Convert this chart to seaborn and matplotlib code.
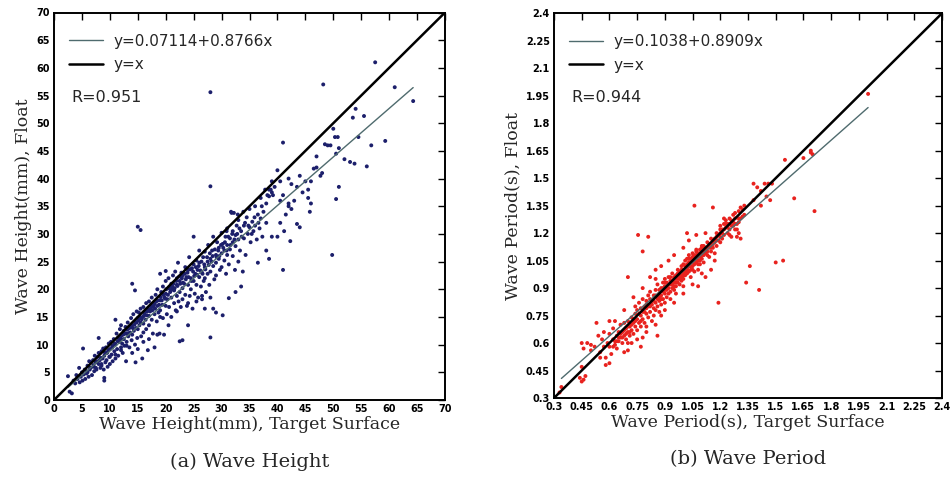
import numpy as np
import pandas as pd
import matplotlib
matplotlib.use("Agg")
import matplotlib.pyplot as plt
import seaborn as sns

sns.set_style("white")
plt.rcParams['font.family'] = ['DejaVu Sans']

# ---------------- data: wave height (mm) ----------------
height_target = [
    2.5, 2.8, 3.2, 3.5, 3.8, 4, 4.2, 4.5, 4.6, 4.8, 5, 5.1, 5.2, 5.3, 5.5, 5.6, 5.8, 6, 6, 6.2,
    6.3, 6.5, 6.6, 6.8, 7, 7, 7.2, 7.3, 7.5, 7.6, 7.8, 8, 8, 8, 8.2, 8.3, 8.5, 8.5, 8.7, 8.8,
    8.9, 9, 9, 9, 9.2, 9.3, 9.4, 9.5, 9.6, 9.8, 9.9, 10, 10, 10.2, 10.3, 10.5, 10.5, 10.7, 10.8, 11,
    11, 11, 11.2, 11.3, 11.5, 11.5, 11.7, 11.8, 12, 12, 12, 12.2, 12.3, 12.5, 12.5, 12.6, 12.8, 12.9, 13, 13,
    13.2, 13.3, 13.5, 13.5, 13.6, 13.8, 13.9, 14, 14, 14, 14.2, 14.3, 14.5, 14.5, 14.6, 14.7, 14.8, 14.9, 15, 15,
    15, 15.2, 15.3, 15.5, 15.5, 15.6, 15.8, 15.9, 16, 16, 16, 16.2, 16.4, 16.5, 16.5, 16.7, 16.8, 17, 17, 17,
    17.3, 17.5, 17.5, 17.7, 17.8, 18, 18, 18, 18.2, 18.4, 18.5, 18.5, 18.7, 18.9, 19, 19, 19, 19.2, 19.4, 19.5,
    19.5, 19.7, 19.8, 20, 20, 20, 20, 20.2, 20.3, 20.5, 20.5, 20.6, 20.8, 21, 21, 21, 21.2, 21.3, 21.5, 21.5,
    21.7, 21.8, 22, 22, 22, 22.2, 22.3, 22.5, 22.5, 22.7, 22.8, 23, 23, 23, 23.3, 23.5, 23.5, 23.7, 23.8, 24,
    24, 24.2, 24.3, 24.5, 24.5, 24.7, 24.8, 25, 25, 25, 25.2, 25.3, 25.5, 25.5, 25.7, 25.8, 26, 26, 26, 26.3,
    26.5, 26.5, 26.7, 26.8, 27, 27, 27, 27.2, 27.5, 27.5, 27.6, 27.8, 28, 28, 28, 28.3, 28.5, 28.5, 28.7, 29,
    29, 29, 29.2, 29.5, 29.5, 29.7, 30, 30, 30, 30.2, 30.5, 30.5, 30.7, 30.8, 31, 31, 31, 31.3, 31.5, 31.5,
    31.7, 32, 32, 32, 32.2, 32.4, 32.5, 32.5, 32.7, 33, 33, 33, 33.3, 33.5, 33.8, 34, 34, 34.3, 34.5, 34.7,
    35, 35, 35.2, 35.5, 35.7, 36, 36, 36.3, 36.5, 36.8, 37, 37, 37.3, 37.5, 37.8, 38, 38, 38.5,
    57.5, 48.2, 28.0, 61.0, 64.3, 54, 53.5, 55.5, 50, 50.3, 50.8, 54.5, 59.3, 56.8, 41, 48.5, 49, 49.5,
    51, 50.5, 52, 53, 53.8, 56, 47, 47, 46.5, 48, 47.7, 51, 50.5, 49.8, 28,
    40, 39, 38.5, 39, 39.2, 40.5, 42, 42.5, 43.5, 44, 45, 45.5, 46, 44.5, 45.5, 46, 45.8, 43.5, 44, 42.3,
    41.2, 40.5, 39, 40, 38.5, 41, 36.5, 38, 42, 41.5, 42, 40.5, 41, 43, 42.5,
    15, 15.5, 28, 30.2, 28.5, 29, 31.3, 33.5, 32.5, 24, 23, 22.5, 14, 14.5,
]
height_float = [
    4.3, 1.5, 1.2, 3.5, 3.0, 4.5, 3.8, 5.8, 3.2, 4.2, 5.0, 3.5, 9.3, 4.6, 5.5, 3.8, 4.8, 6.2, 5.0, 4.2,
    7.0, 5.8, 6.8, 4.5, 7.2, 6.0, 5.2, 8.0, 6.8, 5.5, 7.8, 8.5, 6.5, 11.2, 7.2, 5.8, 8.8, 6.2, 7.5, 9.3,
    5.5, 3.5, 4.0, 8.0, 6.8, 9.5, 7.2, 8.5, 6.0, 10.2, 7.8, 9.2, 6.5, 10.5, 8.2, 9.8, 7.0, 11.0, 8.8, 14.5,
    10.0, 7.5, 12.0, 9.2, 11.2, 8.0, 10.5, 12.8, 11.5, 9.5, 13.5, 10.2, 8.5, 12.5, 11.0, 9.8, 13.2, 7.0, 12.0, 10.5,
    14.0, 11.5, 13.0, 9.5, 12.2, 14.8, 10.8, 13.5, 11.8, 8.5, 15.5, 12.5, 14.2, 10.0, 6.8, 13.0, 16.0, 11.2, 14.8, 12.8,
    9.2, 15.8, 13.5, 16.5, 14.0, 11.5, 7.5, 15.0, 16.8, 13.8, 12.2, 15.5, 14.5, 17.5, 12.8, 16.0, 9.0, 15.2, 17.8, 13.5,
    16.5, 14.5, 18.5, 12.0, 16.8, 17.5, 15.5, 9.5, 19.0, 14.2, 17.0, 20.0, 15.8, 12.0, 18.0, 16.2, 22.8, 19.5, 17.2, 14.8,
    20.5, 11.8, 18.5, 19.2, 17.0, 21.5, 23.3, 15.5, 18.2, 20.2, 22.0, 16.8, 19.5, 18.5, 21.0, 15.0, 20.5, 22.5, 17.5, 19.8,
    23.2, 16.2, 20.8, 18.8, 22.0, 24.8, 17.8, 21.5, 19.5, 16.8, 23.0, 20.2, 22.5, 18.2, 21.0, 24.0, 19.0, 22.2, 17.0, 20.8,
    23.5, 25.8, 18.8, 22.0, 20.0, 23.8, 16.5, 21.5, 24.5, 29.5, 19.2, 22.8, 25.2, 20.8, 23.5, 18.5, 22.2, 24.8, 27.0, 20.5,
    23.0, 18.8, 25.8, 21.5, 24.0, 22.0, 26.8, 19.5, 25.0, 22.8, 28.0, 20.8, 25.5, 23.2, 18.5, 27.0, 24.2, 29.5, 21.8, 26.2,
    24.8, 22.5, 28.5, 25.5, 27.5, 23.5, 30.2, 26.5, 24.0, 28.2, 27.0, 25.2, 29.5, 22.8, 28.0, 26.2, 31.0, 24.5, 29.2, 27.2,
    34.0, 30.5, 28.5, 26.0, 33.8, 23.5, 29.8, 27.8, 31.5, 32.5, 29.0, 25.0, 27.0, 30.5, 23.2, 31.5, 29.2, 26.2, 33.0, 30.0,
    31.2, 34.5, 28.5, 32.2, 30.5, 35.0, 31.5, 29.0, 33.5, 31.0, 36.5, 32.8, 29.5, 34.0, 38.0, 32.0, 35.5, 36.8,
    61.0, 57.0, 55.6, 56.5, 54.0, 52.6, 51.0, 51.3, 49.0, 47.5, 47.5, 47.5, 46.8, 46.0, 46.5, 46.2, 46.0, 46.0,
    45.5, 44.5, 43.5, 43.0, 42.7, 42.2, 44.0, 42.0, 41.8, 41.0, 40.5, 38.5, 36.3, 26.2, 38.6,
    41.5, 39.5, 38.0, 37.5, 37.0, 39.5, 40.0, 39.0, 38.5, 40.5, 39.5, 38.0, 39.5, 37.5, 36.5, 35.5, 34.0, 31.8, 31.2, 28.7,
    30.5, 32.0, 29.5, 29.5, 25.5, 23.5, 24.8, 27.0, 35.0, 33.5, 35.5, 36.0, 37.0, 36.0, 34.5,
    31.3, 30.7, 11.3, 15.3, 16.5, 15.8, 18.4, 20.5, 19.5, 13.5, 10.8, 10.6, 21.0, 19.8,
]
# additional points of the dense core of the height cloud
height_target_core = [
    5.8, 6.4, 7.1, 7.7, 8.4, 9.1, 9.7, 10.4, 10.9, 11.4, 11.9, 12.4, 12.7, 13.1, 13.4, 13.7, 14.1, 14.4, 14.8, 15.1,
    15.4, 15.7, 16.1, 16.3, 16.6, 16.9, 17.2, 17.4, 17.6, 17.9, 18.1, 18.3, 18.6, 18.8, 19.1, 19.3, 19.6, 19.9, 20.1, 20.4,
    20.7, 20.9, 21.1, 21.4, 21.6, 21.9, 22.1, 22.4, 22.6, 22.9, 23.1, 23.4, 23.6, 23.9, 24.1, 24.4, 24.6, 24.9, 25.1, 25.4,
    25.6, 25.9, 26.2, 26.4, 26.6, 26.9, 27.1, 27.4, 27.7, 27.9, 28.2, 28.4, 28.8, 29.1, 29.4, 29.6, 29.9, 30.3, 30.6, 30.9,
    31.2, 31.6, 31.9, 32.3, 32.8, 33.2, 33.6, 34.2, 34.8, 35.4, 35.9, 36.6, 37.2, 38.2, 38.8, 39.5, 33.9, 32.9, 31.8, 30.9,
    16.0, 17.0, 18.5, 19.0, 20.5, 22.0, 24.0, 25.5, 26.5, 27.0, 12.0, 13.0, 10.0, 11.0, 8.5, 7.5,
]
height_float_core = [
    5.2, 5.5, 6.3, 7.0, 7.6, 8.6, 8.9, 9.5, 10.2, 10.6, 11.0, 11.8, 12.0, 12.7, 12.0, 13.3, 13.0, 13.6, 14.0, 14.4,
    15.0, 14.6, 15.2, 16.0, 15.3, 16.4, 16.0, 17.0, 16.2, 17.2, 16.5, 17.8, 18.0, 17.2, 18.6, 18.0, 19.0, 18.3, 20.0, 19.0,
    20.5, 19.8, 20.0, 21.0, 20.2, 21.5, 20.6, 22.3, 21.0, 22.0, 21.2, 22.8, 21.8, 23.0, 22.2, 23.6, 21.5, 23.2, 22.4, 24.0,
    22.6, 24.2, 23.4, 25.0, 22.8, 24.5, 23.6, 25.8, 24.4, 26.5, 25.0, 26.0, 27.2, 25.8, 27.0, 26.0, 28.0, 27.5, 28.5, 27.0,
    29.5, 28.0, 30.0, 29.0, 30.0, 31.0, 29.5, 32.0, 31.5, 30.0, 33.0, 32.0, 35.0, 37.0, 38.0, 38.5, 34.0, 33.5, 33.8, 30.5,
    10.5, 11.0, 11.8, 15.0, 13.5, 16.0, 17.5, 17.8, 18.2, 16.5, 9.0, 9.8, 7.8, 8.2, 6.5, 5.8,
]

# ---------------- data: wave period (s) ----------------
period_target = [
    0.55, 0.56, 0.57, 0.58, 0.59, 0.6, 0.6, 0.61, 0.62, 0.62, 0.63, 0.64, 0.64, 0.65, 0.65, 0.66, 0.66, 0.67, 0.67, 0.68,
    0.68, 0.69, 0.69, 0.7, 0.7, 0.7, 0.71, 0.71, 0.72, 0.72, 0.73, 0.73, 0.74, 0.74, 0.74, 0.75, 0.75, 0.75, 0.76, 0.76,
    0.77, 0.77, 0.77, 0.78, 0.78, 0.78, 0.79, 0.79, 0.8, 0.8, 0.8, 0.8, 0.81, 0.81, 0.82, 0.82, 0.82, 0.83, 0.83, 0.84,
    0.84, 0.84, 0.85, 0.85, 0.85, 0.86, 0.86, 0.86, 0.87, 0.87, 0.87, 0.88, 0.88, 0.88, 0.89, 0.89, 0.89, 0.9, 0.9, 0.9,
    0.9, 0.91, 0.91, 0.91, 0.92, 0.92, 0.92, 0.93, 0.93, 0.93, 0.94, 0.94, 0.94, 0.95, 0.95, 0.95, 0.96, 0.96, 0.96, 0.97,
    0.97, 0.97, 0.98, 0.98, 0.98, 0.99, 0.99, 0.99, 1.0, 1.0, 1.0, 1.0, 1.01, 1.01, 1.01, 1.02, 1.02, 1.02, 1.03, 1.03,
    1.03, 1.04, 1.04, 1.04, 1.05, 1.05, 1.05, 1.06, 1.06, 1.06, 1.07, 1.07, 1.07, 1.08, 1.08, 1.08, 1.09, 1.09, 1.1, 1.1,
    1.1, 1.11, 1.11, 1.12, 1.12, 1.13, 1.13, 1.14, 1.14, 1.15, 1.15, 1.16, 1.16, 1.17, 1.17, 1.18, 1.18, 1.19, 1.2, 1.2,
    1.2, 1.21, 1.21, 1.22, 1.22, 1.23, 1.23, 1.24, 1.24, 1.25, 1.25, 1.26, 1.26, 1.27, 1.27, 1.28, 1.28, 1.29, 1.29, 1.3,
    1.3, 1.31, 1.31, 1.32, 1.33, 1.33,
    0.68, 0.63, 0.6, 0.72, 0.75, 0.78, 0.8, 0.85, 0.88, 0.9, 0.95, 1.0, 1.05, 1.1, 1.12, 1.08, 0.82, 0.85, 0.88, 0.92,
    0.95, 1.0, 1.03, 1.02, 1.07, 1.12, 1.17, 1.15, 0.85, 0.78, 0.73, 0.68, 0.7, 0.57, 0.54, 0.55, 0.77, 0.86,
    2.0, 1.69, 1.70, 1.69, 1.65, 1.55, 1.71, 1.6, 1.38, 1.40, 1.42, 1.44, 1.46, 1.48, 1.45, 1.42, 1.47, 1.38,
    1.36, 1.34, 1.41, 1.50, 1.54, 1.19, 1.06, 1.16, 0.755, 0.81, 0.78, 0.70, 0.53, 0.45, 0.46, 0.48, 0.5, 0.52,
    0.5, 0.45, 0.44, 0.46, 0.47, 0.45, 0.34, 0.33, 0.6, 0.58,
]
period_float = [
    0.55, 0.62, 0.58, 0.52, 0.60, 0.65, 0.58, 0.54, 0.62, 0.68, 0.59, 0.64, 0.57, 0.66, 0.61, 0.63, 0.70, 0.60, 0.66, 0.64,
    0.71, 0.62, 0.68, 0.66, 0.72, 0.60, 0.69, 0.64, 0.74, 0.67, 0.71, 0.65, 0.76, 0.69, 0.80, 0.73, 0.67, 0.78, 0.71, 0.82,
    0.75, 0.69, 0.79, 0.73, 0.84, 0.77, 0.71, 0.80, 0.76, 0.83, 0.69, 0.79, 0.74, 0.86, 0.80, 0.77, 0.88, 0.72, 0.83, 0.79,
    0.86, 0.75, 0.82, 0.89, 0.78, 0.85, 0.80, 0.92, 0.83, 0.87, 0.77, 0.86, 0.90, 0.81, 0.88, 0.84, 0.93, 0.87, 0.91, 0.82,
    0.95, 0.89, 0.85, 0.93, 0.90, 0.87, 0.96, 0.92, 0.88, 0.84, 0.94, 0.90, 0.98, 0.93, 0.89, 0.96, 0.95, 0.91, 0.87, 0.97,
    0.93, 1.00, 0.95, 0.92, 0.99, 0.97, 0.94, 1.02, 0.98, 0.95, 1.03, 0.91, 1.00, 0.97, 1.05, 1.01, 0.98, 1.06, 1.02, 0.99,
    1.08, 1.04, 1.00, 0.96, 1.05, 1.02, 1.09, 1.06, 1.03, 0.99, 1.08, 1.04, 1.11, 1.07, 1.03, 1.00, 1.09, 1.05, 1.10, 1.06,
    1.13, 1.08, 1.04, 1.12, 1.09, 1.10, 1.15, 1.12, 1.07, 1.14, 1.10, 1.16, 1.12, 1.15, 1.09, 1.18, 1.13, 1.16, 1.20, 1.15,
    1.24, 1.22, 1.17, 1.25, 1.19, 1.23, 1.27, 1.20, 1.25, 1.28, 1.22, 1.24, 1.18, 1.26, 1.30, 1.22, 1.28, 1.25, 1.18, 1.32,
    1.26, 1.34, 1.17, 1.29, 1.35, 1.30,
    0.78, 0.72, 0.72, 0.60, 0.62, 0.63, 0.66, 0.70, 0.75, 0.78, 0.82, 0.87, 0.92, 0.98, 0.96, 0.91, 0.96, 1.00, 1.02, 1.05,
    1.08, 1.12, 1.16, 1.20, 1.19, 1.20, 1.05, 1.00, 0.95, 0.90, 0.85, 0.55, 0.56, 0.66, 0.64, 0.52, 0.58, 0.64,
    1.96, 1.64, 1.63, 1.65, 1.61, 1.60, 1.32, 1.39, 1.47, 1.45, 1.43, 1.47, 1.47, 1.47, 1.40, 1.35, 1.38, 1.38,
    1.02, 0.93, 0.89, 1.04, 1.05, 0.82, 1.35, 1.34, 1.19, 1.18, 1.10, 0.96, 0.71, 0.60, 0.57, 0.60, 0.59, 0.58,
    0.56, 0.47, 0.41, 0.40, 0.42, 0.39, 0.36, 0.33, 0.49, 0.48,
]
# additional points of the dense core of the period cloud
period_target_core = [
    0.76, 0.79, 0.81, 0.83, 0.84, 0.86, 0.87, 0.88, 0.89, 0.9, 0.91, 0.92, 0.93, 0.94, 0.95, 0.96, 0.96, 0.97, 0.98, 0.99,
    1.0, 1.0, 1.01, 1.02, 1.02, 1.03, 1.04, 1.04, 1.05, 1.05, 1.06, 1.06, 1.07, 1.08, 1.08, 1.09, 1.09, 1.1, 1.11, 1.11,
    1.12, 1.13, 1.14, 1.15, 1.16, 1.17, 1.18, 1.19, 1.2, 1.21, 1.22, 1.23, 1.24, 1.25, 1.26, 1.27, 1.28, 1.3, 0.72, 0.73,
    0.71, 0.69, 0.67, 0.65, 0.63, 0.62, 0.64, 0.66, 0.68, 0.7, 0.74, 0.77, 0.8, 0.82, 0.85, 0.87, 0.9, 0.93, 0.95, 0.97,
    0.99, 1.01, 1.03, 1.05, 1.07, 1.09, 1.1, 1.13, 1.15, 1.18, 1.2, 1.22, 1.25, 1.28, 1.31, 1.32, 1.3, 1.29,
]
period_float_core = [
    0.76, 0.77, 0.80, 0.81, 0.83, 0.84, 0.89, 0.84, 0.90, 0.89, 0.91, 0.92, 0.94, 0.92, 0.95, 0.97, 0.93, 0.95, 0.97, 1.00,
    1.00, 0.97, 1.02, 1.03, 1.00, 1.04, 1.02, 1.06, 1.04, 1.07, 1.05, 1.08, 1.06, 1.09, 1.05, 1.07, 1.11, 1.08, 1.10, 1.13,
    1.11, 1.12, 1.14, 1.12, 1.14, 1.17, 1.16, 1.19, 1.22, 1.20, 1.22, 1.25, 1.23, 1.25, 1.27, 1.24, 1.25, 1.28, 0.70, 0.73,
    0.66, 0.65, 0.63, 0.63, 0.61, 0.58, 0.61, 0.65, 0.67, 0.69, 0.72, 0.72, 0.81, 0.84, 0.86, 0.85, 0.93, 0.96, 0.91, 0.98,
    0.96, 0.99, 1.06, 1.00, 1.10, 1.03, 1.12, 1.08, 1.17, 1.20, 1.18, 1.28, 1.19, 1.31, 1.28, 1.33, 1.20, 1.22,
]

height_fit = (0.07114, 0.8766)
period_fit = (0.1038, 0.8909)
height_R = 0.951
period_R = 0.944

height_ticks = [0, 5, 10, 15, 20, 25, 30, 35, 40, 45, 50, 55, 60, 65, 70]
period_ticks = [0.3, 0.45, 0.6, 0.75, 0.9, 1.05, 1.2, 1.35, 1.5, 1.65, 1.8, 1.95, 2.1, 2.25, 2.4]

df_h = pd.DataFrame({"target": height_target + height_target_core,
                     "float": height_float + height_float_core})
df_p = pd.DataFrame({"target": period_target + period_target_core,
                     "float": period_float + period_float_core})

fig = plt.figure(figsize=(9.5, 4.79), dpi=100)
ax1 = fig.add_axes([54 / 950, 1 - 400 / 479, (445 - 54) / 950, (400 - 12.5) / 479])
ax2 = fig.add_axes([554 / 950, 1 - 398 / 479, (942 - 554) / 950, (398 - 13.3) / 479])

serif = ['DejaVu Serif']
fit_color = '#4f6b6e'


def panel(ax, df, color, fit, R, ticks, lims, fit_range, eq_text, xlabel, ylabel, caption, tick_fmt):
    sns.scatterplot(data=df, x="target", y="float", ax=ax, color=color, s=8,
                    edgecolor='none', linewidth=0, legend=False, zorder=2)
    fx = np.array(fit_range)
    ax.plot(fx, fit[0] + fit[1] * fx, color=fit_color, lw=1.0, label=eq_text, zorder=3)
    ax.plot(lims, lims, color='black', lw=1.8, label='y=x', zorder=3)
    ax.set_xlim(lims)
    ax.set_ylim(lims)
    ax.set_xticks(ticks)
    ax.set_yticks(ticks)
    ax.set_xticklabels([tick_fmt(t) for t in ticks])
    ax.set_yticklabels([tick_fmt(t) for t in ticks])
    ax.tick_params(direction='in', length=5, width=1.0, top=True, right=True,
                   labelsize=7, pad=3, colors='black')
    for lab in ax.get_xticklabels() + ax.get_yticklabels():
        lab.set_fontweight('bold')
    for sp in ax.spines.values():
        sp.set_linewidth(1.4)
        sp.set_color('black')
    ax.set_xlabel(xlabel, family=serif, fontsize=12.5, labelpad=1)
    ax.set_ylabel(ylabel, family=serif, fontsize=12.5, labelpad=3)
    ax.legend(loc='upper left', frameon=False, fontsize=11, handlelength=2.2,
              bbox_to_anchor=(0.0, 0.985), borderaxespad=0.6, handletextpad=0.7,
              labelspacing=0.55)
    ax.text(0.045, 0.78, f"R={R}", transform=ax.transAxes, fontsize=11.5, va='center')
    ax.text(0.5, -0.16, caption, transform=ax.transAxes, family=serif, fontsize=14,
            ha='center', va='center')


panel(ax1, df_h, '#1c1f6b', height_fit, height_R, height_ticks, (0, 70), (2.5, 64.3),
      'y=0.07114+0.8766x', 'Wave Height(mm), Target Surface', 'Wave Height(mm), Float',
      '(a) Wave Height', lambda t: f"{t:g}")
panel(ax2, df_p, '#e8221e', period_fit, period_R, period_ticks, (0.3, 2.4), (0.34, 2.0),
      'y=0.1038+0.8909x', 'Wave Period(s), Target Surface', 'Wave Period(s), Float',
      '(b) Wave Period', lambda t: f"{t:g}")

fig.savefig("out.png", dpi=100)
